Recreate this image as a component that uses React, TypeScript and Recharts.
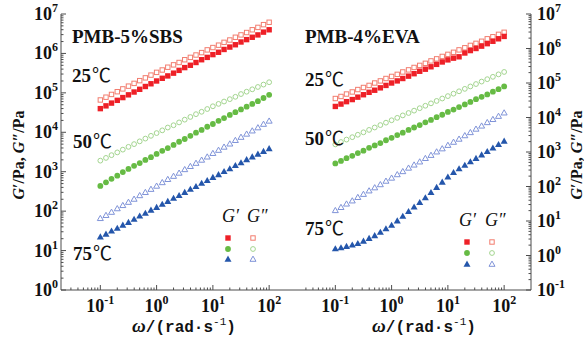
import React from 'react';
import { ScatterChart, Scatter, XAxis, YAxis } from 'recharts';

// angular frequency (rad/s)
const freq = [0.1, 0.126, 0.158, 0.2, 0.251, 0.316, 0.398, 0.501, 0.631, 0.794, 1, 1.26, 1.58, 2, 2.51, 3.16, 3.98, 5.01, 6.31, 7.94, 10, 12.6, 15.8, 20, 25.1, 31.6, 39.8, 50.1, 63.1, 79.4, 100];

// PMB-5%SBS
const sbs25Gp = [3.98e4, 4.68e4, 5.5e4, 6.46e4, 7.59e4, 8.91e4, 1.05e5, 1.23e5, 1.45e5, 1.7e5, 2.0e5, 2.34e5, 2.69e5, 3.16e5, 3.72e5, 4.37e5, 5.01e5, 5.89e5, 6.92e5, 7.94e5, 9.33e5, 1.07e6, 1.26e6, 1.45e6, 1.66e6, 1.95e6, 2.24e6, 2.57e6, 2.95e6, 3.47e6, 3.98e6];
const sbs25Gpp = [6.6e4, 7.76e4, 9.12e4, 1.07e5, 1.26e5, 1.48e5, 1.74e5, 2.04e5, 2.4e5, 2.82e5, 3.31e5, 3.8e5, 4.47e5, 5.13e5, 5.89e5, 6.92e5, 7.94e5, 9.12e5, 1.05e6, 1.23e6, 1.41e6, 1.62e6, 1.91e6, 2.19e6, 2.57e6, 2.95e6, 3.39e6, 3.98e6, 4.57e6, 5.37e6, 6.17e6];
const sbs50Gp = [437, 537, 661, 794, 977, 1175, 1413, 1660, 1995, 2344, 2818, 3388, 3981, 4786, 5754, 6761, 8128, 9772, 1.15e4, 1.38e4, 1.62e4, 1.95e4, 2.29e4, 2.75e4, 3.24e4, 3.8e4, 4.47e4, 5.25e4, 6.17e4, 7.41e4, 8.91e4];
const sbs50Gpp = [1.91e3, 2.24e3, 2.63e3, 3.09e3, 3.63e3, 4.27e3, 5.01e3, 5.89e3, 6.92e3, 8.13e3, 9.55e3, 1.12e4, 1.32e4, 1.51e4, 1.78e4, 2.09e4, 2.45e4, 2.88e4, 3.31e4, 3.89e4, 4.57e4, 5.25e4, 6.03e4, 6.92e4, 7.94e4, 9.33e4, 1.07e5, 1.23e5, 1.41e5, 1.62e5, 1.86e5];
const sbs75Gp = [22.4, 26.3, 31.6, 37.2, 44.7, 52.5, 63.1, 75.9, 89.1, 107, 126, 151, 178, 214, 251, 302, 363, 427, 513, 603, 724, 851, 1023, 1202, 1445, 1698, 2042, 2399, 2818, 3311, 3890];
const sbs75Gpp = [66, 79, 95, 117, 141, 170, 204, 251, 302, 363, 437, 537, 646, 776, 933, 1148, 1380, 1660, 1995, 2399, 2951, 3548, 4266, 5129, 6310, 7586, 9120, 1.1e4, 1.32e4, 1.62e4, 1.95e4];

// PMB-4%EVA
const eva25Gp = [2.09e4, 2.45e4, 2.88e4, 3.31e4, 3.89e4, 4.57e4, 5.37e4, 6.17e4, 7.24e4, 8.51e4, 1.0e5, 1.15e5, 1.35e5, 1.58e5, 1.86e5, 2.19e5, 2.51e5, 2.95e5, 3.47e5, 4.07e5, 4.68e5, 5.25e5, 5.75e5, 7.41e5, 8.71e5, 1.0e6, 1.17e6, 1.38e6, 1.62e6, 1.91e6, 2.24e6];
const eva25Gpp = [3.55e4, 4.07e4, 4.79e4, 5.5e4, 6.46e4, 7.41e4, 8.51e4, 1.0e5, 1.15e5, 1.35e5, 1.55e5, 1.78e5, 2.09e5, 2.4e5, 2.82e5, 3.24e5, 3.72e5, 4.37e5, 5.01e5, 5.89e5, 6.76e5, 7.76e5, 9.12e5, 1.05e6, 1.23e6, 1.41e6, 1.62e6, 1.91e6, 2.19e6, 2.57e6, 2.95e6];
const eva50Gp = [468, 550, 661, 776, 933, 1096, 1318, 1549, 1820, 2188, 2570, 3090, 3631, 4365, 5129, 6026, 7244, 8511, 1.02e4, 1.2e4, 1.45e4, 1.7e4, 2.0e4, 2.4e4, 2.82e4, 3.39e4, 3.98e4, 4.68e4, 5.62e4, 6.61e4, 7.94e4];
const eva50Gpp = [1.66e3, 1.95e3, 2.29e3, 2.69e3, 3.16e3, 3.72e3, 4.37e3, 5.13e3, 6.03e3, 7.08e3, 8.32e3, 9.77e3, 1.15e4, 1.35e4, 1.58e4, 1.86e4, 2.19e4, 2.57e4, 3.02e4, 3.55e4, 4.17e4, 4.9e4, 5.75e4, 6.76e4, 7.94e4, 9.33e4, 1.1e5, 1.29e5, 1.51e5, 1.78e5, 2.09e5];
const eva75Gp = [1.58, 1.7, 1.86, 2.04, 2.24, 2.63, 3.16, 3.8, 4.79, 6.03, 7.59, 10.2, 13.8, 19.1, 25.7, 34.7, 47.9, 67.6, 95.5, 135, 191, 257, 331, 417, 525, 661, 832, 1047, 1318, 1660, 2089];
const eva75Gpp = [20.4, 25.1, 31.6, 38.9, 49.0, 60.3, 75.9, 93.3, 115, 145, 178, 224, 275, 347, 427, 525, 661, 813, 1023, 1259, 1585, 1950, 2399, 3020, 3715, 4677, 5754, 7244, 8913, 1.1e4, 1.38e4];

// axis tick values
const xMajor = [0.1, 1, 10, 100];
const yMajorLeft = [1, 10, 100, 1e3, 1e4, 1e5, 1e6, 1e7];
const yMajorRight = [0.1, 1, 10, 100, 1e3, 1e4, 1e5, 1e6, 1e7];
const xDomain: [number, number] = [0.02, 300];
const yDomainLeft: [number, number] = [1, 1e7];
const yDomainRight: [number, number] = [0.1, 1e7];

const withMinors = (majors: number[], lead: number[] = []) => {
  const out: number[] = [...lead];
  majors.slice(0, -1).forEach((m) => {
    for (let k = 1; k <= 9; k++) out.push(m * k);
  });
  out.push(majors[majors.length - 1]);
  return out;
};
const xTicks = withMinors(xMajor, [0.03, 0.04, 0.05, 0.06, 0.07, 0.08, 0.09]);
const yTicksLeft = withMinors(yMajorLeft);
const yTicksRight = withMinors(yMajorRight);

const SERIF = "'Liberation Serif', 'Times New Roman', serif";
const MONO = "'Liberation Mono', 'Courier New', monospace";
const CJK = "'Noto Sans CJK SC', 'Noto Sans CJK JP', sans-serif";
const AXIS = '#4d4d4d';

const RED = '#ee2027';
const RED_O = '#f27c6e';
const GREEN = '#66bb44';
const GREEN_O = '#a3d58f';
const BLUE = '#2456ab';
const BLUE_O = '#7f93d8';

type Kind = 'square' | 'circle' | 'triangle';

const Marker = ({ kind, filled, color, cx, cy }: { kind: Kind; filled: boolean; color: string; cx: number; cy: number }) => {
  if (cx == null || cy == null) return null;
  if (kind === 'square') {
    return filled ? (
      <rect x={cx - 2.7} y={cy - 2.7} width={5.4} height={5.4} fill={color} />
    ) : (
      <rect x={cx - 2.2} y={cy - 2.2} width={4.4} height={4.4} fill="none" stroke={color} strokeWidth={1} />
    );
  }
  if (kind === 'circle') {
    return filled ? (
      <circle cx={cx} cy={cy} r={2.9} fill={color} />
    ) : (
      <circle cx={cx} cy={cy} r={2.4} fill="none" stroke={color} strokeWidth={1} />
    );
  }
  return filled ? (
    <polygon points={`${cx},${cy - 3.4} ${cx + 3.5},${cy + 2.7} ${cx - 3.5},${cy + 2.7}`} fill={color} />
  ) : (
    <polygon points={`${cx},${cy - 2.9} ${cx + 3},${cy + 2.3} ${cx - 3},${cy + 2.3}`} fill="none" stroke={color} strokeWidth={1} />
  );
};

type Series = { name: string; values: number[]; kind: Kind; filled: boolean; color: string };

const sbsSeries: Series[] = [
  { name: "25 G''", values: sbs25Gpp, kind: 'square', filled: false, color: RED_O },
  { name: "25 G'", values: sbs25Gp, kind: 'square', filled: true, color: RED },
  { name: "50 G''", values: sbs50Gpp, kind: 'circle', filled: false, color: GREEN_O },
  { name: "50 G'", values: sbs50Gp, kind: 'circle', filled: true, color: GREEN },
  { name: "75 G''", values: sbs75Gpp, kind: 'triangle', filled: false, color: BLUE_O },
  { name: "75 G'", values: sbs75Gp, kind: 'triangle', filled: true, color: BLUE },
];
const evaSeries: Series[] = [
  { name: "25 G''", values: eva25Gpp, kind: 'square', filled: false, color: RED_O },
  { name: "25 G'", values: eva25Gp, kind: 'square', filled: true, color: RED },
  { name: "50 G''", values: eva50Gpp, kind: 'circle', filled: false, color: GREEN_O },
  { name: "50 G'", values: eva50Gp, kind: 'circle', filled: true, color: GREEN },
  { name: "75 G''", values: eva75Gpp, kind: 'triangle', filled: false, color: BLUE_O },
  { name: "75 G'", values: eva75Gp, kind: 'triangle', filled: true, color: BLUE },
];

const toRows = (values: number[]) => freq.map((f, i) => ({ x: f, y: values[i] }));

const isMajor = (v: number) => {
  const lg = Math.log10(v);
  return Math.abs(lg - Math.round(lg)) < 1e-6;
};

const LeftTick = (p: any) => {
  const { x, y, payload } = p;
  const v = payload.value;
  const major = isMajor(v);
  return (
    <g>
      <line x1={x} x2={x + (major ? 5 : 2.5)} y1={y} y2={y} stroke={AXIS} strokeWidth={1} />
      {major && (
        <text x={x - 3} y={y + 6} textAnchor="end" fontFamily={SERIF} fontWeight="bold" fontSize={18} fill="#111">
          10<tspan dy={-8} fontSize={12}>{Math.round(Math.log10(v))}</tspan>
        </text>
      )}
    </g>
  );
};

const RightTick = (p: any) => {
  const { x, y, payload } = p;
  const v = payload.value;
  const major = isMajor(v);
  return (
    <g>
      <line x1={x} x2={x - (major ? 5 : 2.5)} y1={y} y2={y} stroke={AXIS} strokeWidth={1} />
      {major && (
        <text x={x + 6} y={y + 6} textAnchor="start" fontFamily={SERIF} fontWeight="bold" fontSize={18} fill="#111">
          10<tspan dy={-8} fontSize={12}>{Math.round(Math.log10(v))}</tspan>
        </text>
      )}
    </g>
  );
};

const BottomTick = (p: any) => {
  const { x, y, payload } = p;
  const v = payload.value;
  const major = isMajor(v);
  return (
    <g>
      <line x1={x} x2={x} y1={y} y2={y - (major ? 5 : 2.5)} stroke={AXIS} strokeWidth={1} />
      {major && (
        <text x={x} y={y + 22} textAnchor="middle" fontFamily={SERIF} fontWeight="bold" fontSize={18} fill="#111">
          10<tspan dy={-8} fontSize={12}>{Math.round(Math.log10(v))}</tspan>
        </text>
      )}
    </g>
  );
};

const renderSeries = (list: Series[]) =>
  list.map((s) => (
    <Scatter
      key={s.name}
      name={s.name}
      data={toRows(s.values)}
      dataKey="y"
      isAnimationActive={false}
      shape={(pp: any) => <Marker kind={s.kind} filled={s.filled} color={s.color} cx={pp.cx} cy={pp.cy} />}
    />
  ));

const LegendBlock = ({ x, y, gx1, gx2, gy }: { x: number[]; y: number[]; gx1: number; gx2: number; gy: number }) => {
  const rows: { kind: Kind; c: string; o: string }[] = [
    { kind: 'square', c: RED, o: RED_O },
    { kind: 'circle', c: GREEN, o: GREEN_O },
    { kind: 'triangle', c: BLUE, o: BLUE_O },
  ];
  return (
    <g>
      <text x={gx1} y={gy + 6} fontFamily={SERIF} fontStyle="italic" fontSize={18} fill="#111">G′</text>
      <text x={gx2} y={gy + 6} fontFamily={SERIF} fontStyle="italic" fontSize={18} fill="#111">G″</text>
      {rows.map((r, i) => (
        <g key={i}>
          <Marker kind={r.kind} filled color={r.c} cx={x[0]} cy={y[i]} />
          <Marker kind={r.kind} filled={false} color={r.o} cx={x[1]} cy={y[i]} />
        </g>
      ))}
    </g>
  );
};

const Label = ({ x, y, text }: { x: number; y: number; text: string }) => (
  <text x={x} y={y + 6} fontFamily={SERIF} fontWeight="bold" fontSize={19} fill="#111">
    {text}
  </text>
);

const Temp = ({ x, y, t }: { x: number; y: number; t: string }) => (
  <text x={x} y={y + 6} fontFamily={SERIF} fontWeight="bold" fontSize={19} fill="#111">
    {t}
    <tspan fontFamily={CJK} fontWeight="normal" fontSize={19} dx={1}>℃</tspan>
  </text>
);

const YTitle = ({ cx, cy }: { cx: number; cy: number }) => (
  <text
    x={cx}
    y={cy}
    dy={6}
    transform={`rotate(-90 ${cx} ${cy})`}
    textAnchor="middle"
    fontFamily={SERIF}
    fontWeight="bold"
    fontSize={16}
    fill="#111"
  >
    <tspan fontStyle="italic">G</tspan>′/Pa, <tspan fontStyle="italic">G</tspan>″/Pa
  </text>
);

const XTitle = ({ cx, cy }: { cx: number; cy: number }) => (
  <text x={cx} y={cy + 6} textAnchor="middle" fontSize={16} fill="#111">
    <tspan fontFamily={SERIF} fontStyle="italic" fontWeight="bold" fontSize={19}>ω</tspan>
    <tspan fontFamily={MONO} fontWeight="bold">/(rad·s</tspan>
    <tspan fontFamily={MONO} dy={-7} fontSize={11}>-1</tspan>
    <tspan fontFamily={MONO} fontWeight="bold" dy={7}>)</tspan>
  </text>
);

export default function App() {
  return (
    <div style={{ position: 'absolute', left: 0, top: 0, width: 584, height: 340, background: '#fff', overflow: 'hidden' }}>
      <div style={{ position: 'absolute', left: 0, top: 0 }}>
        <ScatterChart width={300} height={340} margin={{ top: 14, right: 4, bottom: 0, left: 0 }}>
          <XAxis
            dataKey="x"
            type="number"
            scale="log"
            domain={xDomain}
            allowDataOverflow
            ticks={xTicks}
            interval={0}
            tickSize={0}
            tickMargin={0}
            tickLine={false}
            tick={<BottomTick />}
            height={50}
            axisLine={{ stroke: AXIS }}
          />
          <XAxis xAxisId="top" orientation="top" type="number" scale="log" domain={xDomain} allowDataOverflow height={0} tick={false} tickLine={false} axisLine={{ stroke: AXIS }} />
          <YAxis
            dataKey="y"
            type="number"
            scale="log"
            domain={yDomainLeft}
            allowDataOverflow
            ticks={yTicksLeft}
            interval={0}
            tickSize={0}
            tickMargin={0}
            tickLine={false}
            tick={<LeftTick />}
            width={61}
            axisLine={{ stroke: AXIS }}
          />
          <YAxis yAxisId="r" orientation="right" type="number" scale="log" domain={yDomainLeft} allowDataOverflow width={0} tick={false} tickLine={false} axisLine={{ stroke: AXIS }} />
          {renderSeries(sbsSeries)}
        </ScatterChart>
      </div>
      <div style={{ position: 'absolute', left: 286, top: 0 }}>
        <ScatterChart width={298} height={340} margin={{ top: 14, right: 0, bottom: 0, left: 10 }}>
          <XAxis
            dataKey="x"
            type="number"
            scale="log"
            domain={xDomain}
            allowDataOverflow
            ticks={xTicks}
            interval={0}
            tickSize={0}
            tickMargin={0}
            tickLine={false}
            tick={<BottomTick />}
            height={50}
            axisLine={{ stroke: AXIS }}
          />
          <XAxis xAxisId="top" orientation="top" type="number" scale="log" domain={xDomain} allowDataOverflow height={0} tick={false} tickLine={false} axisLine={{ stroke: AXIS }} />
          <YAxis yAxisId="l" orientation="left" type="number" scale="log" domain={yDomainRight} allowDataOverflow width={0} tick={false} tickLine={false} axisLine={{ stroke: AXIS }} />
          <YAxis
            dataKey="y"
            orientation="right"
            type="number"
            scale="log"
            domain={yDomainRight}
            allowDataOverflow
            ticks={yTicksRight}
            interval={0}
            tickSize={0}
            tickMargin={0}
            tickLine={false}
            tick={<RightTick />}
            width={53}
            axisLine={{ stroke: AXIS }}
          />
          {renderSeries(evaSeries)}
        </ScatterChart>
      </div>
      <svg width={584} height={340} style={{ position: 'absolute', left: 0, top: 0, pointerEvents: 'none' }}>
        <Label x={72} y={37} text="PMB-5%SBS" />
        <Temp x={72} y={76} t="25" />
        <Temp x={73} y={142} t="50" />
        <Temp x={73} y={254} t="75" />
        <Label x={305} y={37} text="PMB-4%EVA" />
        <Temp x={305} y={80} t="25" />
        <Temp x={305} y={139} t="50" />
        <Temp x={305} y={229} t="75" />
        <LegendBlock x={[228, 253]} y={[238, 249, 259]} gx1={222} gx2={247} gy={216} />
        <LegendBlock x={[467, 492]} y={[242, 253, 264]} gx1={459} gx2={485} gy={220} />
        <YTitle cx={18} cy={155} />
        <YTitle cx={576} cy={155} />
        <XTitle cx={184} cy={326} />
        <XTitle cx={424} cy={326} />
      </svg>
    </div>
  );
}
